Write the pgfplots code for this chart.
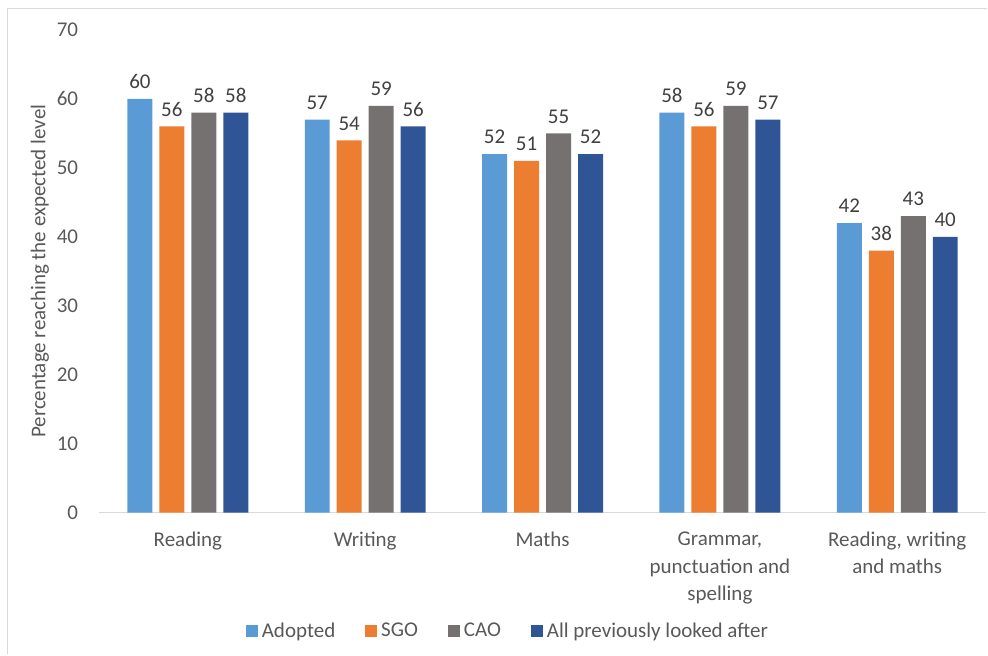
\documentclass[border=0pt]{standalone}
\usepackage{fontspec}
\setmainfont{Carlito}
\usepackage{pgfplots}
\pgfplotsset{compat=1.18}
\definecolor{cAdopted}{HTML}{5B9BD5}
\definecolor{cSGO}{HTML}{ED7D31}
\definecolor{cCAO}{HTML}{767171}
\definecolor{cAll}{HTML}{2F5597}
\definecolor{txt}{HTML}{595959}
\definecolor{lbl}{HTML}{404040}
\definecolor{frame}{HTML}{D9D9D9}
\newcommand{\cf}{\fontsize{10.5}{13.9}\selectfont}
\pgfplotsset{
  sq/.style={legend image code/.code={\fill[##1,draw=none] (0pt,-3pt) rectangle (6pt,3pt);}},
  bars/.style={ybar, bar width=12.5pt, draw=none, bar shift=#1,
    nodes near coords, nodes near coords style={font=\cf, color=lbl, anchor=south, yshift=1.5pt, xshift=#1},
    sq}
}
\begin{document}
\begin{tikzpicture}
\begin{axis}[
  scale only axis,
  width=443.75pt, height=241.5pt,
  xmin=-0.5, xmax=4.5,
  ymin=0, ymax=70,
  ytick={0,10,...,70},
  xtick={0,1,2,3,4},
  xticklabels={Reading, Writing, Maths, {Grammar,\\punctuation and\\spelling}, {Reading, writing\\and maths}},
  xticklabel style={align=center, font=\cf, color=txt, yshift=-6pt},
  yticklabel style={font=\cf, color=txt, xshift=-7pt},
  /pgf/number format/assume math mode=true,
  major tick length=0pt,
  axis lines=left,
  axis line style={-},
  y axis line style={draw=none},
  x axis line style={draw=frame, line width=0.8pt},
  ylabel={Percentage reaching the expected level},
  ylabel style={font=\cf, color=txt, at={(axis description cs:-0.0668,0.5)}, anchor=center},
  legend columns=4,
  legend style={draw=none, font=\cf, text=txt, at={(axis description cs:0.462,-0.246)}, anchor=center,
    /tikz/every even column/.append style={column sep=13pt}, inner sep=0pt},
  clip=false,
]
\addplot[bars=-24pt, fill=cAdopted] coordinates {(0,60) (1,57) (2,52) (3,58) (4,42)};
\addlegendentry{Adopted}
\addplot[bars=-8pt, fill=cSGO] coordinates {(0,56) (1,54) (2,51) (3,56) (4,38)};
\addlegendentry{SGO}
\addplot[bars=8pt, fill=cCAO] coordinates {(0,58) (1,59) (2,55) (3,59) (4,43)};
\addlegendentry{CAO}
\addplot[bars=24pt, fill=cAll] coordinates {(0,58) (1,56) (2,52) (3,57) (4,40)};
\addlegendentry{All previously looked after}
\end{axis}
\draw[frame, line width=0.8pt] (-45.9pt,-71pt) -- (-45.9pt,252.25pt) -- (444.375pt,252.25pt);
\useasboundingbox (-49.625pt,-71pt) rectangle (444.375pt,256.5pt);
\end{tikzpicture}
\end{document}
